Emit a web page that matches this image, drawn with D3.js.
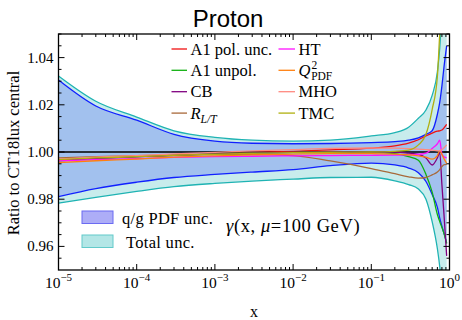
<!DOCTYPE html>
<html><head><meta charset="utf-8">
<script src="https://cdn.jsdelivr.net/npm/d3@7"></script>
<style>body{margin:0;background:#fff}svg{display:block}</style>
</head><body>
<svg id="c" width="462" height="320"></svg>
<script>
// ---------- data ----------
const xs = [1e-5, 3e-5, 1e-4, 3e-4, 1e-3, 3e-3, 1e-2, 3e-2, 0.1, 0.2, 0.3, 0.4, 0.5, 0.6, 0.7, 0.75, 0.8, 0.85, 0.92];
const totalUpper = [1.0322,1.0215,1.0148,1.0090,1.0062,1.0050,1.0046,1.0050,1.0068,1.0082,1.0105,1.0143,1.0178,1.0240,1.0340,1.0440,1.0600,1.0750,1.0900];
const totalLower = [0.9783,0.9808,0.9833,0.9853,0.9867,0.9877,0.9885,0.9892,0.9893,0.9878,0.9862,0.9843,0.9800,0.9705,0.9590,0.9515,0.9420,0.9330,0.9200];
const pdfUpper   = [1.0305,1.0195,1.0135,1.0075,1.0046,1.0037,1.0035,1.0036,1.0040,1.0044,1.0050,1.0060,1.0075,1.0090,1.0160,1.0210,1.0280,1.0360,1.0450];
const pdfLower   = [0.9811,0.9845,0.9872,0.9892,0.9905,0.9915,0.9925,0.9942,0.9953,0.9945,0.9932,0.9912,0.9875,0.9820,0.9765,0.9720,0.9685,0.9655,0.9615];
const a1pol   = [0.9968,0.9974,0.9980,0.9986,0.9992,0.9998,1.0003,1.0009,1.0016,1.0026,1.0038,1.0052,1.0068,1.0080,1.0088,1.0090,1.0093,1.0102,1.0117];
const a1unpol = [0.9962,0.9972,0.9980,0.9987,0.9992,0.9996,0.9998,1.0000,1.0000,0.9993,0.9980,0.9965,0.9905,0.9830,0.9735,0.9705,0.9680,0.9655,0.9612];
const cb      = [0.9965,0.9973,0.9980,0.9986,0.9991,0.9995,0.9998,1.0000,1.0000,1.0000,0.9995,0.9990,0.9975,0.9945,0.9975,0.9998,0.9860,0.9735,0.9560];
const rlt     = [0.9975,0.9980,0.9985,0.9988,0.9990,0.9990,0.9985,0.9962,0.9930,0.9908,0.9895,0.9889,0.9892,0.9903,0.9915,0.9925,0.9938,0.9946,0.9948];
const ht      = [0.9963,0.9968,0.9972,0.9977,0.9980,0.9982,0.9984,0.9985,0.9986,0.9987,0.9988,0.9990,0.9995,1.0015,1.0035,1.0050,0.9990,0.9980,0.9975];
const q2pdf   = [0.9955,0.9963,0.9970,0.9978,0.9984,0.9988,0.9991,0.9993,0.9993,0.9991,0.9988,0.9984,0.9978,0.9970,0.9985,1.0005,0.9990,0.9972,0.9952];
const mho     = [0.9970,0.9978,0.9985,0.9992,0.9998,1.0005,1.0010,1.0015,1.0017,1.0016,1.0014,1.0012,1.0010,1.0008,1.0005,1.0005,1.0010,1.0018,1.0030];
const tmc     = [0.9968,0.9975,0.9980,0.9986,0.9990,0.9994,0.9997,0.9999,1.0000,1.0003,1.0008,1.0030,1.0075,1.0180,1.0320,1.0500,1.0650,1.0800,1.1000];

const seriesNames  = ["A1 pol. unc.","A1 unpol.","CB","R_L/T","HT","Q2_PDF","MHO","TMC"];
const seriesValues = [a1pol, a1unpol, cb, rlt, ht, q2pdf, mho, tmc];
const seriesColors = ["#f01010","#10b010","#800080","#a8693a","#ff10ff","#ff8010","#ff8a80","#b0b010"];

const xTickValues = [1e-5,1e-4,1e-3,1e-2,1e-1,1];
const xTickExps   = ["\u22125","\u22124","\u22123","\u22122","\u22121","0"];
const yTickValues = [0.96,0.98,1.00,1.02,1.04];
const yTickLabels = ["0.96","0.98","1.00","1.02","1.04"];

// ---------- layout ----------
const L = 58.5, R = 449.5, T = 34, B = 270;
const svg = d3.select("#c");
const serif = "'Liberation Serif', 'DejaVu Serif', serif";
const x = d3.scaleLog().domain([1e-5, 1]).range([L, R]);
const y = d3.scaleLinear().domain([0.95, 1.05]).range([B, T]);

svg.append("defs").append("clipPath").attr("id","clip")
  .append("rect").attr("x",L).attr("y",T).attr("width",R-L).attr("height",B-T);

const plot = svg.append("g").attr("clip-path","url(#clip)");
const idx = d3.range(xs.length);
const curve = d3.curveMonotoneX;

plot.append("path").datum(idx)
  .attr("d", d3.area().curve(curve).x(i=>x(xs[i])).y0(i=>y(totalLower[i])).y1(i=>y(totalUpper[i])))
  .attr("fill","#c8ecec");
plot.append("path").datum(idx)
  .attr("d", d3.area().curve(curve).x(i=>x(xs[i])).y0(i=>y(pdfLower[i])).y1(i=>y(pdfUpper[i])))
  .attr("fill","#a2c1ee");

const line = vals => d3.line().curve(curve).x(i=>x(xs[i])).y(i=>y(vals[i]))(idx);
[totalUpper,totalLower].forEach(v=>plot.append("path").attr("d",line(v)).attr("fill","none").attr("stroke","#1fb3b3").attr("stroke-width",1.3));
[pdfUpper,pdfLower].forEach(v=>plot.append("path").attr("d",line(v)).attr("fill","none").attr("stroke","#1020ff").attr("stroke-width",1.3));

plot.append("line").attr("x1",L).attr("x2",R).attr("y1",y(1)).attr("y2",y(1)).attr("stroke","#000").attr("stroke-width",1.5);

seriesValues.forEach((v,k)=>{
  plot.append("path").attr("d",line(v)).attr("fill","none").attr("stroke",seriesColors[k]).attr("stroke-width",1.3);
});

// ---------- axes (inward ticks) ----------
const ax = svg.append("g");
const minorX = [];
for (let e=-5;e<0;e++) for (let m=2;m<10;m++) minorX.push(m*Math.pow(10,e));
const minorY = d3.range(0.955,1.05,0.005).filter(v=>!yTickValues.some(t=>Math.abs(t-v)<1e-6));
function tick(x1,y1,x2,y2){ax.append("line").attr("x1",x1).attr("y1",y1).attr("x2",x2).attr("y2",y2).attr("stroke","#000").attr("stroke-width",1);}
xTickValues.forEach(v=>{tick(x(v),B,x(v),B-6);tick(x(v),T,x(v),T+6);});
minorX.forEach(v=>{tick(x(v),B,x(v),B-3);tick(x(v),T,x(v),T+3);});
yTickValues.forEach(v=>{tick(L,y(v),L+6,y(v));tick(R,y(v),R-6,y(v));});
minorY.forEach(v=>{tick(L,y(v),L+3,y(v));tick(R,y(v),R-3,y(v));});
ax.append("rect").attr("x",L).attr("y",T).attr("width",R-L).attr("height",B-T).attr("fill","none").attr("stroke","#000").attr("stroke-width",1.3);

yTickValues.forEach((v,k)=>{
  svg.append("text").attr("x",L-5).attr("y",y(v)+5).attr("text-anchor","end")
    .attr("font-family",serif).attr("font-size",15).text(yTickLabels[k]);
});
xTickValues.forEach((v,k)=>{
  const t = svg.append("text").attr("x",x(v)).attr("y",288).attr("text-anchor","middle")
    .attr("font-family",serif).attr("font-size",15.5);
  t.append("tspan").text("10");
  t.append("tspan").attr("font-size",11).attr("dy",-7).text(xTickExps[k]);
});

svg.append("text").attr("x",254).attr("y",317).attr("text-anchor","middle").attr("font-family",serif).attr("font-size",16).text("x");
svg.append("text").attr("transform","translate(19,153) rotate(-90)").attr("text-anchor","middle")
  .attr("font-family",serif).attr("font-size",16.5).text("Ratio to CT18lux central");
svg.append("text").attr("x",228).attr("y",26.5).attr("text-anchor","middle")
  .attr("font-family","'Liberation Sans', Arial, sans-serif").attr("font-size",24).text("Proton");

// ---------- legend (components) ----------
const legRows = [49, 70.3, 91.7, 113.1];
const legCols = [{x1:171.5,x2:187,tx:190.5},{x1:278.5,x2:295,tx:298.5}];
seriesNames.forEach((name,k)=>{
  const c = legCols[Math.floor(k/4)], ry = legRows[k%4];
  svg.append("line").attr("x1",c.x1).attr("x2",c.x2).attr("y1",ry).attr("y2",ry).attr("stroke",seriesColors[k]).attr("stroke-width",1.3);
  const t = svg.append("text").attr("x",c.tx).attr("y",ry+5.5).attr("font-family",serif).attr("font-size",16.5);
  if (name==="R_L/T") {
    t.append("tspan").attr("font-style","italic").text("R");
    t.append("tspan").attr("font-style","italic").attr("font-size",11.5).attr("dy",4).text("L/T");
  } else if (name==="Q2_PDF") {
    t.append("tspan").attr("font-style","italic").text("Q");
    t.append("tspan").attr("font-size",11.5).attr("dy",-7).attr("dx",1).text("2");
    t.append("tspan").attr("font-size",11.5).attr("dy",11).attr("dx",-6).text("PDF");
  } else t.text(name);
});

// ---------- legend (bands) ----------
svg.append("rect").attr("x",82).attr("y",211).attr("width",31).attr("height",12.5).attr("fill","#adadf7").attr("stroke","#6b6bf2").attr("stroke-width",1);
svg.append("rect").attr("x",82).attr("y",235).attr("width",31).attr("height",12.5).attr("fill","#b3e6e6").attr("stroke","#62caca").attr("stroke-width",1);
svg.append("text").attr("x",122).attr("y",223.5).attr("font-family",serif).attr("font-size",16.5).attr("letter-spacing",0.3).text("q/g PDF unc.");
svg.append("text").attr("x",126).attr("y",247.5).attr("font-family",serif).attr("font-size",16.5).attr("letter-spacing",0.3).text("Total unc.");

const ann = svg.append("text").attr("x",226).attr("y",232).attr("font-family",serif).attr("font-size",18.5).attr("letter-spacing",0.6);
ann.append("tspan").attr("font-style","italic").text("\u03b3");
ann.append("tspan").text("(x, ");
ann.append("tspan").attr("font-style","italic").text("\u03bc");
ann.append("tspan").text("=100 GeV)");
</script>
</body></html>
